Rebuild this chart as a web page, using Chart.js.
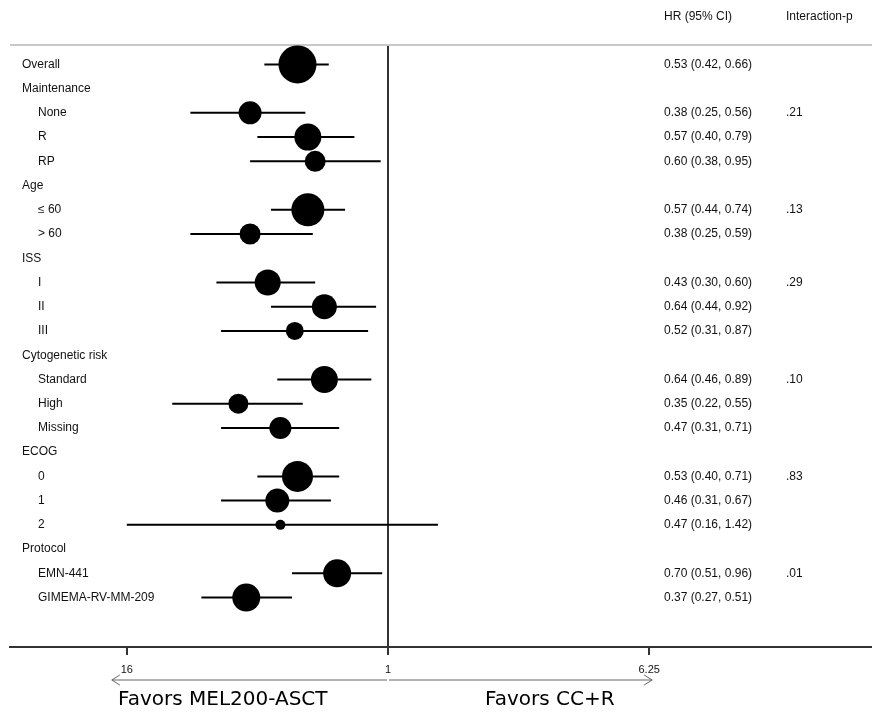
<!doctype html>
<html lang="en">
  <head>
    <title>Forest plot</title>
    <script src="https://cdn.jsdelivr.net/npm/chart.js@4/dist/chart.umd.min.js"></script>
    <style>
      body { margin: 0; background: #fff; }
      #box { width: 872px; height: 713px; }
    </style>
  </head>

  <body>
    <div id="box"><canvas id="forest"></canvas></div>
    <script>
    // rows of the table, top to bottom
    const rowLabels = ['Overall', 'Maintenance', 'None', 'R', 'RP', 'Age', '\u2264 60', '> 60',
      'ISS', 'I', 'II', 'III', 'Cytogenetic risk', 'Standard', 'High', 'Missing',
      'ECOG', '0', '1', '2', 'Protocol', 'EMN-441', 'GIMEMA-RV-MM-209'];
    const isSubgroup = [0, 0, 1, 1, 1, 0, 1, 1, 0, 1, 1, 1, 0, 1, 1, 1, 0, 1, 1, 1, 0, 1, 1];

    const hr     = [0.53, null, 0.38, 0.57, 0.60, null, 0.57, 0.38, null, 0.43, 0.64, 0.52, null, 0.64, 0.35, 0.47, null, 0.53, 0.46, 0.47, null, 0.70, 0.37];
    const ciLow  = [0.42, null, 0.25, 0.40, 0.38, null, 0.44, 0.25, null, 0.30, 0.44, 0.31, null, 0.46, 0.22, 0.31, null, 0.40, 0.31, 0.16, null, 0.51, 0.27];
    const ciHigh = [0.66, null, 0.56, 0.79, 0.95, null, 0.74, 0.59, null, 0.60, 0.92, 0.87, null, 0.89, 0.55, 0.71, null, 0.71, 0.67, 1.42, null, 0.96, 0.51];
    // marker weight (drawn as bubble radius)
    const weight = [19, 0, 11.5, 13.5, 10.5, 0, 16.5, 10.5, 0, 13, 12.5, 9, 0, 13.5, 10, 11, 0, 15.5, 12, 5, 0, 14, 14];
    const pInteraction = ['', '', '.21', '', '', '', '.13', '', '', '.29', '', '', '', '.10', '', '', '', '.83', '', '', '', '.01', ''];

    const xTicks = [0.16, 1, 6.25];
    const xTickLabels = ['16', '1', '6,25'];

    const fmt = v => v.toFixed(2);

    // CI segments, broken by null points
    var ciData = [];
    var dotData = [];
    for (var i = 0; i < rowLabels.length; i++) {
      if (hr[i] === null) continue;
      ciData.push({x: ciLow[i], y: i}, {x: ciHigh[i], y: i}, {x: ciHigh[i], y: null});
      dotData.push({x: hr[i], y: i, r: weight[i]});
    }

    // table text, header line and the favors arrows
    const tablePlugin = {
      id: 'tablePlugin',
      beforeDatasetsDraw(chart) {
        const ctx = chart.ctx;
        const area = chart.chartArea;
        ctx.save();
        // gray line under header
        ctx.strokeStyle = '#c8c8c8';
        ctx.lineWidth = 2;
        ctx.beginPath();
        ctx.moveTo(area.left, area.top);
        ctx.lineTo(area.right, area.top);
        ctx.stroke();
        ctx.restore();
      },
      afterDraw(chart) {
        const ctx = chart.ctx;
        const x = chart.scales.x;
        const y = chart.scales.y;
        ctx.save();
        ctx.fillStyle = '#111';
        ctx.font = '12px "Liberation Sans", Arial, sans-serif';
        ctx.textBaseline = 'middle';
        ctx.fillText('HR (95% CI)', 664, 17);
        ctx.fillText('Interaction-p', 786, 17);
        for (var i = 0; i < rowLabels.length; i++) {
          var py = y.getPixelForValue(i);
          ctx.fillText(rowLabels[i], isSubgroup[i] ? 38 : 22, py);
          if (hr[i] !== null) {
            ctx.fillText(fmt(hr[i]) + ' (' + fmt(ciLow[i]) + ', ' + fmt(ciHigh[i]) + ')', 664, py);
          }
          if (pInteraction[i]) ctx.fillText(pInteraction[i], 786, py);
        }

        // arrows
        var x0 = x.getPixelForValue(xTicks[0]) - 15;
        var x1 = x.getPixelForValue(1);
        var x2 = x.getPixelForValue(xTicks[2]) + 3;
        var ay = 680;
        ctx.strokeStyle = '#666';
        ctx.lineWidth = 1;
        ctx.beginPath();
        ctx.moveTo(x0, ay); ctx.lineTo(x1 - 1, ay);
        ctx.moveTo(x1 + 1, ay); ctx.lineTo(x2, ay);
        ctx.moveTo(x0 + 8, ay - 5); ctx.lineTo(x0, ay); ctx.lineTo(x0 + 8, ay + 5);
        ctx.moveTo(x2 - 8, ay - 5); ctx.lineTo(x2, ay); ctx.lineTo(x2 - 8, ay + 5);
        ctx.stroke();

        ctx.fillStyle = '#000';
        ctx.textBaseline = 'alphabetic';
        ctx.font = '20px "DejaVu Sans", sans-serif';
        ctx.fillText('Favors MEL200-ASCT', 118, 705);
        ctx.fillText('Favors CC+R', 485, 705);
        ctx.restore();
      }
    };

    new Chart(document.getElementById('forest'), {
      data: {
        datasets: [
          {
            type: 'line',
            data: ciData,
            borderColor: '#000',
            borderWidth: 2,
            pointRadius: 0,
            spanGaps: false
          },
          {
            type: 'bubble',
            data: dotData,
            backgroundColor: '#000',
            borderColor: '#000',
            borderWidth: 0
          }
        ]
      },
      options: {
        responsive: true,
        maintainAspectRatio: false,
        animation: false,
        events: [],
        layout: { autoPadding: false, padding: { top: 45, left: 10, right: 0, bottom: 40 } },
        plugins: { legend: { display: false }, tooltip: { enabled: false } },
        scales: {
          x: {
            type: 'logarithmic',
            min: 0.0705,
            max: 29.85,
            afterBuildTicks: s => { s.ticks = xTicks.map(v => ({value: v})); },
            afterFit: s => { s.height = 26; },
            border: { display: true, color: '#333', width: 2 },
            grid: {
              drawOnChartArea: true,
              color: c => (c.tick && c.tick.value === 1) ? '#333' : 'rgba(0,0,0,0)',
              lineWidth: 2,
              tickColor: '#333',
              tickLength: 8
            },
            ticks: {
              color: '#111',
              padding: 8,
              autoSkip: false,
              maxRotation: 0,
              font: { family: '"Liberation Sans", Arial, sans-serif', size: 11 },
              callback: (v, idx) => xTickLabels[idx]
            }
          },
          y: {
            type: 'linear',
            display: false,
            reverse: true,
            min: -0.8,
            max: 24.04
          }
        }
      },
      plugins: [tablePlugin]
    });
    </script>
  </body>
</html>
